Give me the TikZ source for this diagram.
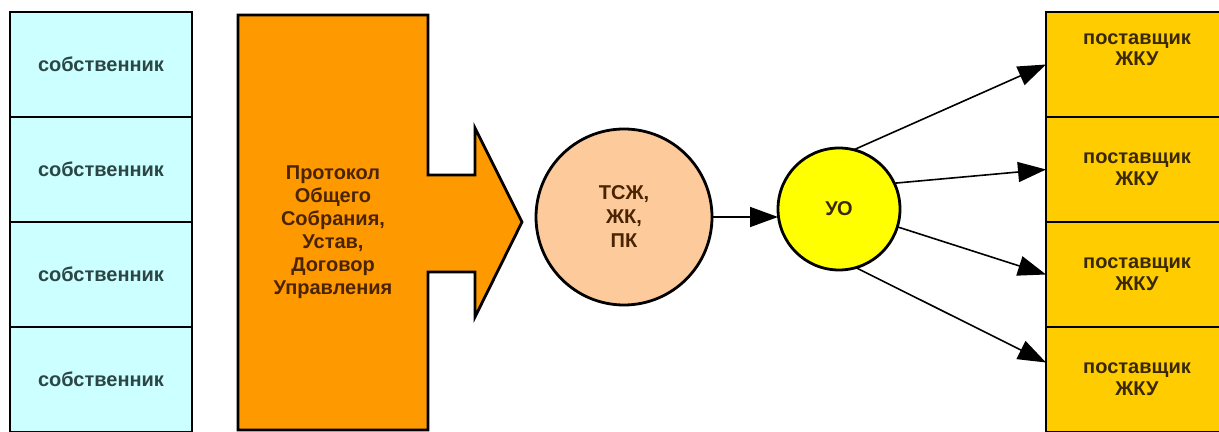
\documentclass[tikz,border=0pt]{standalone}
\usepackage{fontspec}
\setmainfont{Liberation Sans}
\usetikzlibrary{arrows.meta, positioning}
\usepackage{xcolor}

\definecolor{ownerfill}{HTML}{CCFFFF}
\definecolor{ownertext}{HTML}{2C4646}
\definecolor{docfill}{HTML}{FF9900}
\definecolor{doctext}{HTML}{4A2400}
\definecolor{tszhfill}{HTML}{FCCA9B}
\definecolor{uofill}{HTML}{FFFF00}
\definecolor{supfill}{HTML}{FFCC00}
\definecolor{suptext}{HTML}{3A2800}

\begin{document}
\begin{tikzpicture}[
  x=0.5pt, y=-0.5pt,
  font=\bfseries\fontsize{10}{11.5}\selectfont,
  node distance=0pt,
  box/.style={draw, line width=1.4pt, outer sep=0pt, align=center, minimum width=91pt, minimum height=52.5pt},
  owner/.style={box, fill=ownerfill, text=ownertext},
  supplier/.style={box, fill=supfill, text=suptext, font=\bfseries\fontsize{10}{10.8}\selectfont},
  org/.style={circle, draw, line width=1.4pt, outer sep=0pt, inner sep=0pt, align=center},
  flow/.style={-{Triangle[length=14pt, width=10pt]}, line width=0.8pt},
]
  \useasboundingbox (0,0) rectangle (1219,432);

  % Owners stacked on the left
  \node[owner] (own1) at (101,64.5) {собственник};
  \node[owner, below=of own1] (own2) {собственник};
  \node[owner, below=of own2] (own3) {собственник};
  \node[owner, below=of own3] (own4) {собственник};

  % Founding documents as a big block arrow
  \draw[line width=1.4pt, fill=docfill] (238,15) -- (428,15) -- (428,175) -- (475,175) -- (475,128)
    -- (522,222) -- (475,317) -- (475,272) -- (428,272) -- (428,430) -- (238,430) -- cycle;
  \node[text=doctext, align=center] (docs) at (333,232) {Протокол\\Общего\\Собрания,\\Устав,\\Договор\\Управления};

  % Associations and the managing organisation
  \node[org, fill=tszhfill, text=doctext, minimum size=88pt, font=\bfseries\fontsize{10}{12}\selectfont] (tszh) at (624,217) {ТСЖ,\\ЖК,\\ПК};
  \node[org, fill=uofill, text=suptext, minimum size=61pt] (uo) at (839,209) {УО};

  % Utility suppliers on the right
  \node[supplier, text depth=15pt] (sup1) at (1137,64.5) {поставщик\\ЖКУ};
  \node[supplier, below=of sup1] (sup2) {поставщик\\ЖКУ};
  \node[supplier, below=of sup2] (sup3) {поставщик\\ЖКУ};
  \node[supplier, below=of sup3] (sup4) {поставщик\\ЖКУ};

  \draw[flow] (tszh.east) -- (tszh.east -| uo.west);
  \draw[flow] (uo.76) -- (sup1.west);
  \draw[flow] (uo.25) -- (sup2.west);
  \draw[flow] (uo.-17) -- (sup3.west);
  \draw[flow] (uo.-74) -- ([yshift=8.5pt]sup4.west);
\end{tikzpicture}
\end{document}
